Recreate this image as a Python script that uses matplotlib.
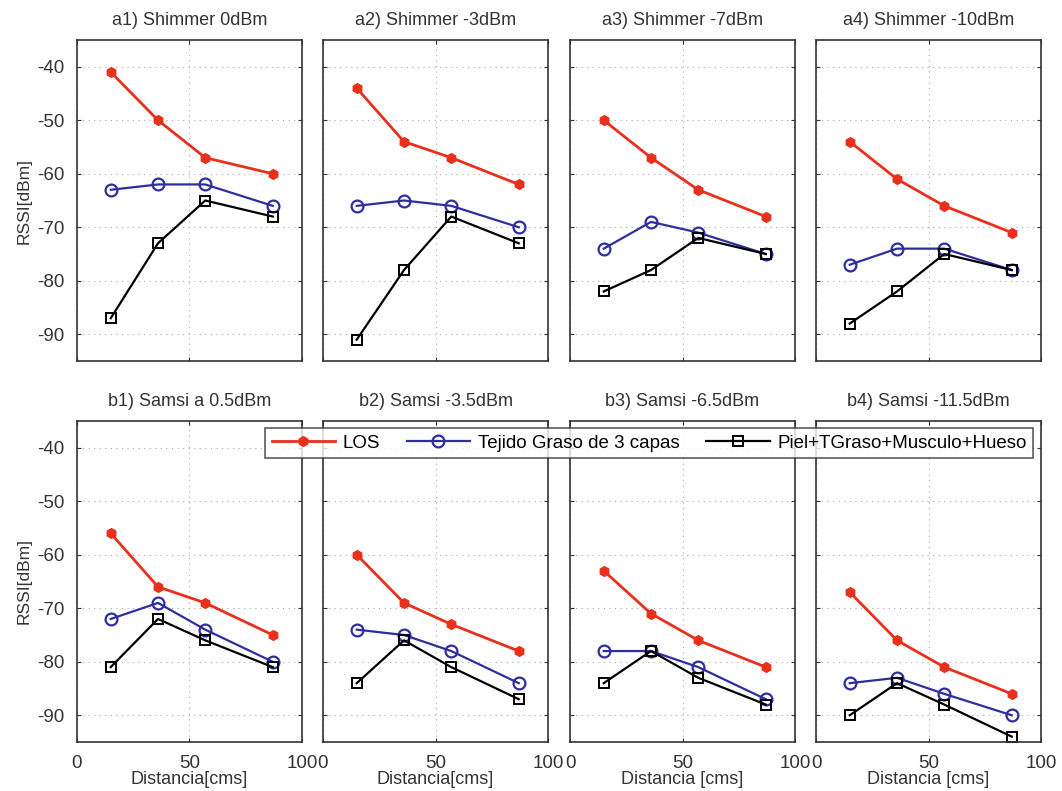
"""RSSI vs distance for Shimmer and Samsi transmitters at several power levels."""

import matplotlib
matplotlib.use("Agg")
import matplotlib.pyplot as plt

plt.rcParams["font.family"] = ["Liberation Sans", "DejaVu Sans"]
plt.rcParams["axes.unicode_minus"] = False

DIST = [15, 36, 57, 87]

TITLES = [
    "a1) Shimmer 0dBm", "a2) Shimmer -3dBm", "a3) Shimmer -7dBm", "a4) Shimmer -10dBm",
    "b1) Samsi a 0.5dBm", "b2) Samsi -3.5dBm", "b3) Samsi -6.5dBm", "b4) Samsi -11.5dBm",
]
XLABELS = ["Distancia[cms]", "Distancia[cms]", "Distancia [cms]", "Distancia [cms]"]

LOS = [
    [-41, -50, -57, -60], [-44, -54, -57, -62], [-50, -57, -63, -68], [-54, -61, -66, -71],
    [-56, -66, -69, -75], [-60, -69, -73, -78], [-63, -71, -76, -81], [-67, -76, -81, -86],
]
TEJIDO = [
    [-63, -62, -62, -66], [-66, -65, -66, -70], [-74, -69, -71, -75], [-77, -74, -74, -78],
    [-72, -69, -74, -80], [-74, -75, -78, -84], [-78, -78, -81, -87], [-84, -83, -86, -90],
]
PIEL = [
    [-87, -73, -65, -68], [-91, -78, -68, -73], [-82, -78, -72, -75], [-88, -82, -75, -78],
    [-81, -72, -76, -81], [-84, -76, -81, -87], [-84, -78, -83, -88], [-90, -84, -88, -94],
]

SERIES_LABELS = ["LOS", "Tejido Graso de 3 capas", "Piel+TGraso+Musculo+Hueso"]

W, H = 1062, 791
fig = plt.figure(figsize=(W / 100, H / 100), dpi=100)

lefts = [77, 323, 570, 816]
tops = [40, 421]
aw, ah = 225, 321
TXT = "#333333"

handles = None
for i in range(8):
    row, col = divmod(i, 4)
    ax = fig.add_axes([lefts[col] / W, 1 - (tops[row] + ah) / H, aw / W, ah / H])
    l1, = ax.plot(DIST, LOS[i], color="#e8301c", lw=2, marker="h", ms=7,
                  mec="#e8301c", mfc="#e8301c")
    l2, = ax.plot(DIST, TEJIDO[i], color="#2e2e9e", lw=1.6, marker="o", ms=8.5,
                  mfc="none", mec="#2e2e9e", mew=1.6)
    l3, = ax.plot(DIST, PIEL[i], color="black", lw=1.6, marker="s", ms=7,
                  mfc="none", mec="black", mew=1.4)
    handles = [l1, l2, l3]

    ax.set_xlim(0, 100)
    ax.set_ylim(-95, -35)
    ax.set_xticks([0, 50, 100])
    ax.set_yticks([-90, -80, -70, -60, -50, -40])
    ax.grid(True, linestyle=(0, (1, 4)), color="#aaaaaa", lw=0.8)
    ax.tick_params(direction="in", top=True, right=True, labelsize=13.5,
                   colors=TXT, length=3)
    ax.tick_params(axis="y", pad=9)
    ax.tick_params(axis="x", pad=9)
    ax.set_title(TITLES[i], fontsize=13, color=TXT, pad=11)
    for s in ax.spines.values():
        s.set_color(TXT)
        s.set_linewidth(1.2)

    if col == 0:
        ax.set_ylabel("RSSI[dBm]", fontsize=12.5, color=TXT, labelpad=4)
    else:
        ax.set_yticklabels([])
    if row == 1:
        ax.set_xlabel(XLABELS[col], fontsize=13, color=TXT, labelpad=0)
    else:
        ax.set_xticklabels([])

leg = fig.legend(handles, SERIES_LABELS, loc="upper right", ncol=3,
                 bbox_to_anchor=(1033 / W, 1 - 428 / H), fontsize=13.5,
                 frameon=True, fancybox=False, edgecolor=TXT,
                 handlelength=3.4, handletextpad=0.4, columnspacing=1.4,
                 borderpad=0.35, borderaxespad=0)
leg.get_frame().set_linewidth(1.2)

fig.savefig("out.png", dpi=100)
